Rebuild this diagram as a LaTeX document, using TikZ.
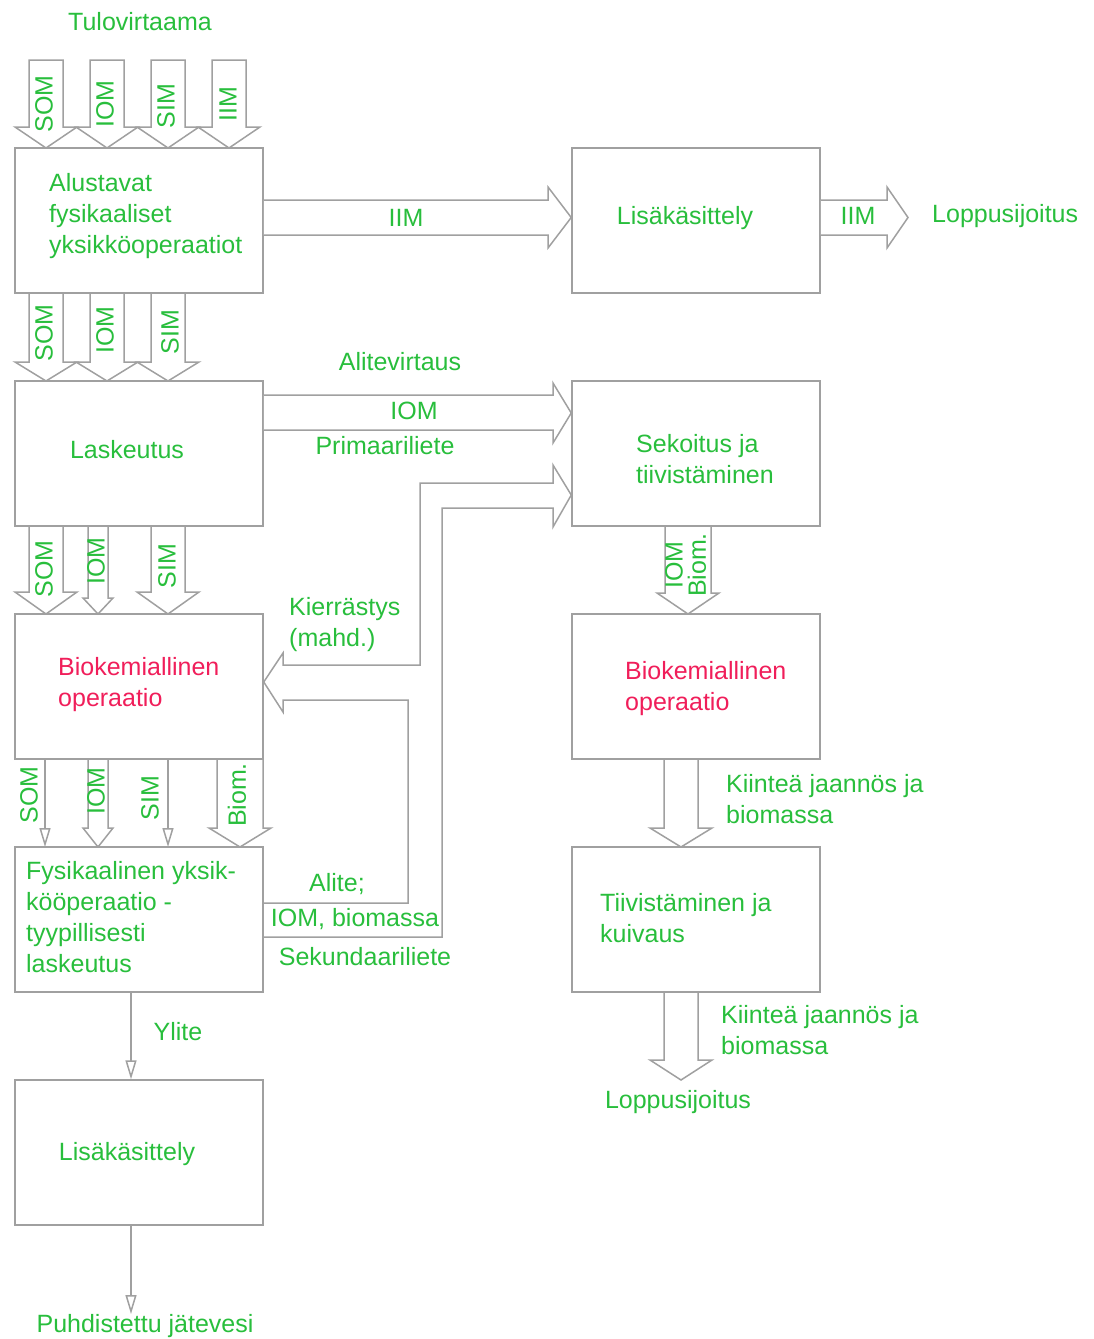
\documentclass[tikz,border=0pt]{standalone}
\usepackage{fontspec}
\setmainfont{Liberation Sans}
\usetikzlibrary{arrows.meta,calc}
\definecolor{tgreen}{RGB}{40,190,60}
\definecolor{tred}{RGB}{240,30,90}
\definecolor{lgray}{RGB}{160,160,160}
% x, ytop, ybot(tip), shaft half width, head half width, head length
\newcommand\FatDown[6]{%
  \draw[fat] (#1-#4,#2) -- (#1-#4,#3-#6) -- (#1-#5,#3-#6) -- (#1,#3) -- (#1+#5,#3-#6) -- (#1+#4,#3-#6) -- (#1+#4,#2) -- cycle;}
\begin{document}
\begin{tikzpicture}[x=1pt,y=-1pt,
  box/.style={draw=lgray,line width=1.5pt,minimum width=248pt,minimum height=145pt,inner sep=0pt},
  lab/.style={text=tgreen,inner sep=0pt,font=\fontsize{25}{31}\selectfont,align=left},
  rlab/.style={lab,text=tred},
  vlab/.style={lab,rotate=90},
  fat/.style={draw=lgray,line width=1.5pt,fill=white,line join=miter},
  thinarr/.style={draw=lgray,line width=1.5pt,-{Triangle[open,length=19pt,width=11pt]}}]
\useasboundingbox (0,0) rectangle (1093,1339);

% boxes
\node[box] (A) at (139,220.5) {};
\node[box] (B) at (696,220.5) {};
\node[box] (C) at (139,453.5) {};
\node[box] (D) at (696,453.5) {};
\node[box] (E) at (139,686.5) {};
\node[box] (F) at (696,686.5) {};
\node[box] (G) at (139,919.5) {};
\node[box] (H) at (696,919.5) {};
\node[box] (I) at (139,1152.5) {};

% box texts
\node[lab,anchor=west] (tA) at (49,216) {Alustavat\\fysikaaliset\\yksikköoperaatiot};
\node[lab] (tB) at (685,218) {Lisäkäsittely};
\node[lab] (tC) at (127,450) {Laskeutus};
\node[lab,anchor=west] (tD) at (636,459) {Sekoitus ja\\tiivistäminen};
\node[rlab,anchor=west] (tE) at (58,685) {Biokemiallinen\\operaatio};
\node[rlab,anchor=west] (tF) at (625,689) {Biokemiallinen\\operaatio};
\node[lab,anchor=west] (tG) at (26,917) {Fysikaalinen yksik-\\kööperaatio -\\tyypillisesti\\laskeutus};
\node[lab,anchor=west] (tH) at (600,918) {Tiivistäminen ja\\kuivaus};
\node[lab] (tI) at (127,1154) {Lisäkäsittely};

% inflow
\node[lab] (tulo) at (140,22) {Tulovirtaama};
\FatDown{46}{60}{148}{17}{31}{21}
\FatDown{107}{60}{148}{17}{31}{21}
\FatDown{168}{60}{148}{17}{31}{21}
\FatDown{229}{60}{148}{17}{31}{21}
\node[vlab] (v1) at (44,104) {SOM};
\node[vlab] (v2) at (105,104) {IOM};
\node[vlab] (v3) at (166,106) {SIM};
\node[vlab] (v4) at (228,104) {IIM};

% A -> C
\FatDown{46}{293}{381}{17}{31}{19}
\FatDown{107}{293}{381}{17}{31}{19}
\FatDown{168}{293}{381}{17}{31}{19}
\node[vlab] (v5) at (44,333) {SOM};
\node[vlab] (v6) at (105,330) {IOM};
\node[vlab] (v7) at (170,332) {SIM};

% C -> E
\FatDown{46}{526}{614}{17}{31}{22}
\FatDown{98}{526}{614}{10}{15}{16}
\FatDown{168}{526}{614}{17}{31}{22}
\node[vlab] (v8) at (44,569) {SOM};
\node[vlab] (v9) at (96,561) {IOM};
\node[vlab] (v10) at (167,566) {SIM};

% E -> G
\draw[thinarr] (45,759) -- (45,847);
\FatDown{98}{759}{847}{10}{15}{19}
\draw[thinarr] (168,759) -- (168,847);
\FatDown{240}{759}{847}{23}{31}{19}
\node[vlab] (v11) at (29,795) {SOM};
\node[vlab] (v12) at (96,791) {IOM};
\node[vlab] (v13) at (150,798) {SIM};
\node[vlab] (v14) at (237,795) {Biom.};

% G -> I -> out
\draw[thinarr] ($(G.south)+(-8,0)$) -- ($(I.north)+(-8,0)$);
\node[lab] (ylite) at (178,1032) {Ylite};
\coordinate (out1) at (131,1314);
\draw[thinarr] ($(I.south)+(-8,0)$) -- (out1);
\node[lab] (puhd) at (145,1326) {Puhdistettu jätevesi};

% A -> B -> out
\draw[fat] (A.east |- 0,200) -- (548,200) -- (548,187) -- (B.west |- 0,217.5) -- (548,248) -- (548,235) -- (A.east |- 0,235);
\node[lab] (iim1) at (406,218) {IIM};
\draw[fat] (B.east |- 0,200) -- (887,200) -- (887,187) -- (908,217.5) -- (887,248) -- (887,235) -- (B.east |- 0,235);
\node[lab] (iim2) at (858,216) {IIM};
\node[lab,anchor=west] (lop1) at (932,216) {Loppusijoitus};

% C -> D
\draw[fat] (C.east |- 0,395) -- (553,395) -- (553,383) -- (D.west |- 0,413) -- (553,443) -- (553,430) -- (C.east |- 0,430);
\node[lab] (alitev) at (400,362) {Alitevirtaus};
\node[lab] (iom1) at (414,411) {IOM};
\node[lab] (prim) at (385,446) {Primaariliete};

% G -> E and G -> D (split)
\draw[fat,fill=none] (G.east |- 0,903) -- (408,903) -- (408,700) -- (283,700) -- (283,712) -- (E.east |- 0,682) -- (283,653) -- (283,665) -- (420,665) -- (420,483) -- (553,483) -- (553,465) -- (D.west |- 0,495) -- (553,527) -- (553,508) -- (442,508) -- (442,937) -- (G.east |- 0,937);
\node[lab,anchor=west] (kierr) at (289,625) {Kierrästys\\(mahd.)};
\node[lab] (alite) at (337,884) {Alite;};
\node[lab] (iombio) at (355,919) {IOM, biomassa};
\node[lab] (sek) at (365,957) {Sekundaariliete};

% D -> F
\FatDown{688}{526}{614}{23}{31}{21}
\node[vlab] (v15) at (674,565) {IOM};
\node[vlab] (v16) at (697,565) {Biom.};

% F -> H
\FatDown{681}{759}{847}{17}{31}{19}
\node[lab,anchor=west] (kiin1) at (726,799) {Kiinteä jaannös ja\\biomassa};

% H -> out
\FatDown{681}{992}{1080}{17}{31}{20}
\node[lab,anchor=west] (kiin2) at (721,1030) {Kiinteä jaannös ja\\biomassa};
\node[lab] (lop2) at (678,1102) {Loppusijoitus};
\end{tikzpicture}
\end{document}
